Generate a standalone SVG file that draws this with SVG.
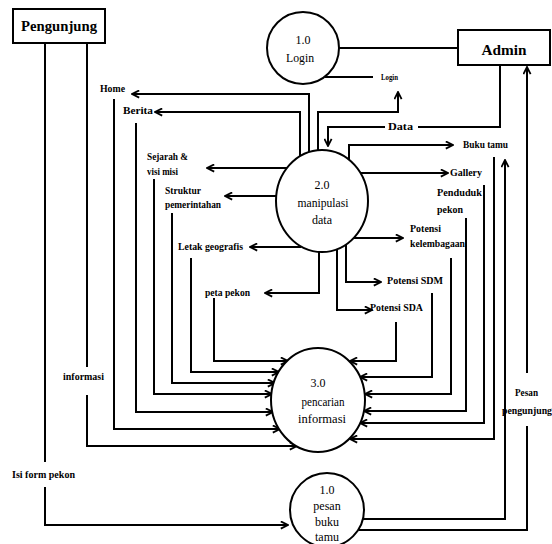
<svg xmlns="http://www.w3.org/2000/svg" width="552" height="544" viewBox="0 0 552 544">
<style>
.n{fill:#fff;stroke:#000;stroke-width:2}
.c{fill:none;stroke:#000;stroke-width:2}
.a{marker-end:url(#ah)}
text{font-family:'Liberation Serif','DejaVu Serif','Times New Roman',serif;font-weight:bold;fill:#000}
.t{font-size:10px}
.s{font-size:8px}
.p{font-size:12px;font-weight:normal;text-anchor:middle}
.e{font-size:15px;text-anchor:middle}
</style>
<defs>
<marker id="ah" viewBox="0 0 10 10" refX="9" refY="5" markerWidth="9" markerHeight="9" orient="auto" markerUnits="userSpaceOnUse">
<path d="M1,1 L9,5 L1,9" fill="none" stroke="#000" stroke-width="2"/>
</marker>
</defs>
<rect width="552" height="544" fill="#fff"/>

<g id="connectors">
<path class="c" d="M337,48 H458"/>
<path class="c" d="M325,77 H373"/>
<path class="c a" d="M318,151 V112 H398 V92"/>
<path class="c a" d="M500,65 V127 H418 M385,127 H328 V146"/>
<path class="c a" d="M309,153 V94 H132"/>
<path class="c a" d="M300,157 V112 H155"/>
<path class="c a" d="M287,168 H207"/>
<path class="c a" d="M277,196 H225"/>
<path class="c a" d="M301,247 H250"/>
<path class="c a" d="M319,252 V293 H265"/>
<path class="c a" d="M349,160 V145 H453"/>
<path class="c a" d="M361,173 H448"/>
<path class="c a" d="M354,238 H403"/>
<path class="c a" d="M346,245 V282 H381"/>
<path class="c a" d="M337,250 V310 H372"/>
<path class="c a" d="M114,99 V429 H280"/>
<path class="c a" d="M136,123 V412 H273"/>
<path class="c a" d="M154,179 V394 H272"/>
<path class="c a" d="M172,213 V383 H275"/>
<path class="c a" d="M191,258 V372 H279"/>
<path class="c a" d="M214,298 V361 H288"/>
<path class="c a" d="M87,43 V367 M87,395 V446 H297"/>
<path class="c a" d="M396,322 V361 H350"/>
<path class="c a" d="M432,293 V377 H360"/>
<path class="c a" d="M451,258 V394 H365"/>
<path class="c a" d="M466,218 V411 H364"/>
<path class="c a" d="M484,185 V423 H360"/>
<path class="c a" d="M494,157 V439 H350"/>
<path class="c a" d="M45,43 V462 M45,487 V525 H288"/>
<path class="c a" d="M363,519 H505 V160"/>
<path class="c a" d="M359,530 H527 V426 M527,373 V67"/>

<text class="t" x="100" y="92" textLength="25" lengthAdjust="spacingAndGlyphs">Home</text>
<text class="t" x="123" y="114" textLength="30" lengthAdjust="spacingAndGlyphs">Berita</text>
<text class="t" x="147" y="160" textLength="41" lengthAdjust="spacingAndGlyphs">Sejarah &amp;</text>
<text class="t" x="147" y="175" textLength="31" lengthAdjust="spacingAndGlyphs">visi misi</text>
<text class="t" x="165" y="194" textLength="36" lengthAdjust="spacingAndGlyphs">Struktur</text>
<text class="t" x="165" y="208" textLength="56" lengthAdjust="spacingAndGlyphs">pemerintahan</text>
<text class="t" x="178" y="250" textLength="65" lengthAdjust="spacingAndGlyphs">Letak geografis</text>
<text class="t" x="205" y="296" textLength="45" lengthAdjust="spacingAndGlyphs">peta pekon</text>
<text class="s" x="381" y="80" textLength="17" lengthAdjust="spacingAndGlyphs">Login</text>
<text class="t" x="388" y="130" textLength="25" lengthAdjust="spacingAndGlyphs">Data</text>
<text class="t" x="463" y="148" textLength="45" lengthAdjust="spacingAndGlyphs">Buku tamu</text>
<text class="t" x="450" y="176" textLength="32" lengthAdjust="spacingAndGlyphs">Gallery</text>
<text class="t" x="437" y="196" textLength="45" lengthAdjust="spacingAndGlyphs">Penduduk</text>
<text class="t" x="437" y="213" textLength="26" lengthAdjust="spacingAndGlyphs">pekon</text>
<text class="t" x="410" y="232" textLength="31" lengthAdjust="spacingAndGlyphs">Potensi</text>
<text class="t" x="410" y="247" textLength="55" lengthAdjust="spacingAndGlyphs">kelembagaan</text>
<text class="t" x="387" y="284" textLength="56" lengthAdjust="spacingAndGlyphs">Potensi SDM</text>
<text class="t" x="370" y="311" textLength="53" lengthAdjust="spacingAndGlyphs">Potensi SDA</text>
<text class="t" x="63" y="380" textLength="41" lengthAdjust="spacingAndGlyphs">informasi</text>
<text class="t" x="12" y="478" textLength="63" lengthAdjust="spacingAndGlyphs">Isi form pekon</text>
<text class="t" x="515" y="396" textLength="23" lengthAdjust="spacingAndGlyphs">Pesan</text>
<text class="t" x="502" y="414" textLength="50" lengthAdjust="spacingAndGlyphs">pengunjung</text>
</g>

<g id="pengunjung">
<rect class="n" x="13" y="9" width="92" height="34"/>
<text class="e" x="59" y="31" textLength="76" lengthAdjust="spacingAndGlyphs">Pengunjung</text>
</g>

<g id="admin">
<rect class="n" x="458" y="30" width="92" height="35"/>
<text class="e" x="504" y="55" font-size="16" textLength="45" lengthAdjust="spacingAndGlyphs">Admin</text>
</g>

<g id="p1-login">
<circle class="n" cx="303" cy="48" r="36"/>
<text class="p" x="303" y="44">1.0</text>
<text class="p" x="300" y="62" textLength="28" lengthAdjust="spacingAndGlyphs">Login</text>
</g>

<g id="p2-manipulasi">
<ellipse class="n" cx="322" cy="201" rx="46" ry="51"/>
<text class="p" x="322" y="189" font-size="13">2.0</text>
<text class="p" x="323" y="207" font-size="13" textLength="51" lengthAdjust="spacingAndGlyphs">manipulasi</text>
<text class="p" x="322" y="224" font-size="13">data</text>
</g>

<g id="p3-pencarian">
<ellipse class="n" cx="318" cy="400" rx="47" ry="52"/>
<text class="p" x="318" y="387" font-size="13">3.0</text>
<text class="p" x="323" y="406" font-size="13" textLength="43" lengthAdjust="spacingAndGlyphs">pencarian</text>
<text class="p" x="322" y="423" font-size="13" textLength="48" lengthAdjust="spacingAndGlyphs">informasi</text>
</g>

<g id="p4-pesan">
<circle class="n" cx="327" cy="510" r="37"/>
<text class="p" x="327" y="494" font-size="13">1.0</text>
<text class="p" x="327" y="510" font-size="13">pesan</text>
<text class="p" x="327" y="526" font-size="13">buku</text>
<text class="p" x="327" y="541" font-size="13">tamu</text>
</g>
</svg>
